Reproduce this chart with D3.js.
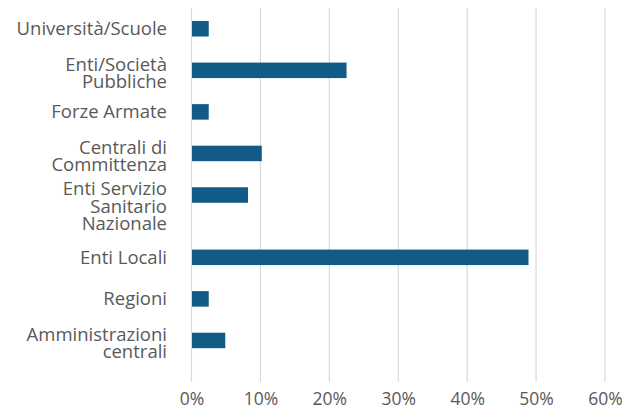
<!DOCTYPE html>
<html>
<head>
<meta charset="utf-8">
<script src="https://cdn.jsdelivr.net/npm/d3@7"></script>
<style>
  html, body { margin: 0; padding: 0; background: #ffffff; }
  svg { display: block; }
  text { font-family: "Open Sans", Lato, sans-serif; font-weight: 400; }
</style>
</head>
<body>
<svg id="chart" width="622" height="410"></svg>
<script>
// Categories, top to bottom; "\n" marks where a label wraps
const categories = [
  "Università/Scuole",
  "Enti/Società\nPubbliche",
  "Forze Armate",
  "Centrali di\nCommittenza",
  "Enti Servizio\nSanitario\nNazionale",
  "Enti Locali",
  "Regioni",
  "Amministrazioni\ncentrali"
];
// Share of the total, in percent
const shares = [2.5, 22.5, 2.5, 10.2, 8.2, 48.9, 2.5, 4.9];
const tickValues = [0, 10, 20, 30, 40, 50, 60];
const tickLabels = ["0%", "10%", "20%", "30%", "40%", "50%", "60%"];

const data = categories.map((c, i) => ({ label: c, lines: c.split("\n"), value: shares[i] }));

const svg = d3.select("#chart");
const plot = { left: 191.5, right: 605, top: 8, bottom: 382 };

const x = d3.scaleLinear().domain([0, 60]).range([plot.left, plot.right]);

// Each row takes one slot; labels with more than two lines take an extra half slot
let acc = 0;
data.forEach(d => {
  d.slot = acc;
  acc += 1 + Math.max(0, d.lines.length - 2) * 0.5;
});
const rowScale = d3.scaleLinear().domain([0, 9]).range([plot.top, plot.bottom]);
const rowCenter = d => rowScale(d.slot + 0.5);
const barH = 15.5;

// Vertical gridlines
svg.append("g")
  .selectAll("line")
  .data(tickValues)
  .join("line")
  .attr("x1", d => x(d)).attr("x2", d => x(d))
  .attr("y1", plot.top).attr("y2", plot.bottom)
  .attr("stroke", "#d9d9d9")
  .attr("stroke-width", 1.2);

// Bottom axis labels
const xAxis = d3.axisBottom(x)
  .tickValues(tickValues)
  .tickFormat((d, i) => tickLabels[i])
  .tickSize(0)
  .tickPadding(11);
const gx = svg.append("g")
  .attr("transform", `translate(0,${plot.bottom})`)
  .call(xAxis);
gx.select(".domain").remove();
gx.selectAll("text")
  .attr("fill", "#595959")
  .style("font-size", "17.5px")
  .style("font-family", "'Open Sans', Lato, sans-serif")
  .style("font-weight", 400);

// Bars
svg.append("g")
  .selectAll("rect")
  .data(data)
  .join("rect")
  .attr("x", x(0) + 0.5)
  .attr("y", d => rowCenter(d) - barH / 2)
  .attr("width", d => x(d.value) - x(0) - 0.5)
  .attr("height", barH)
  .attr("fill", "#125b87");

// Category labels, right-aligned next to the axis
const lineH = 17.5;
const labels = svg.append("g")
  .selectAll("text")
  .data(data)
  .join("text")
  .attr("text-anchor", "end")
  .attr("fill", "#595959")
  .style("font-size", "18.5px")
  .attr("y", d => rowCenter(d) - (d.lines.length > 1 ? 6 : 0));
labels.selectAll("tspan")
  .data(d => d.lines)
  .join("tspan")
  .attr("x", 167)
  .attr("dy", (d, i) => i === 0 ? "0.35em" : lineH)
  .text(d => d);
</script>
</body>
</html>
